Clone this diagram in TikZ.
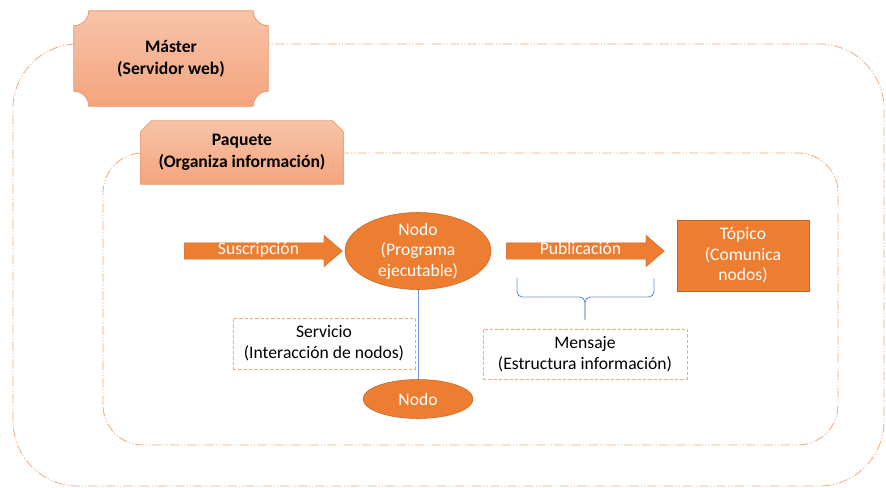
\documentclass[tikz,border=0pt]{standalone}
\usepackage{fontspec}
\setmainfont{Carlito}
\usepackage{xcolor}
\usepackage{tikz}
\usetikzlibrary{shapes.geometric, shapes.arrows, backgrounds}
\definecolor{naranja}{HTML}{ED7D31}
\definecolor{naranjaborde}{HTML}{C4651F}
\definecolor{salmonarriba}{HTML}{F7C4A8}
\definecolor{salmonabajo}{HTML}{F4A47E}
\definecolor{salmonborde}{HTML}{EE9C6C}
\definecolor{marco}{HTML}{F2A878}
\definecolor{azul}{HTML}{6F94D2}
\tikzstyle{master} = [minimum width=145.5pt, minimum height=71.25pt, inner sep=0pt, align=center, font=\fontsize{13.2}{16.5}\selectfont\bfseries]
\tikzstyle{paquete} = [minimum width=151.5pt, minimum height=47.25pt, inner sep=0pt, align=center, font=\fontsize{13.2}{16.5}\selectfont\bfseries]
\tikzstyle{nodo} = [ellipse, fill=naranja, draw=naranjaborde, text=white, align=center, inner xsep=0pt, inner ysep=-2pt, font=\fontsize{13.2}{15.4}\selectfont]
\tikzstyle{topico} = [rectangle, minimum width=99pt, minimum height=53.25pt, fill=naranja, draw=naranjaborde, text=white, align=center, font=\fontsize{13.2}{15.4}\selectfont]
\tikzstyle{flecha} = [single arrow, fill=naranja, draw=naranjaborde, line width=0.3pt, text=white, minimum height=118.5pt, inner ysep=0pt, text height=8.5pt, text depth=3.5pt, single arrow head extend=5.6pt, single arrow tip angle=81, single arrow head indent=0pt, font=\fontsize{13.2}{15.4}\selectfont]
\tikzstyle{caja} = [rectangle, draw=marco, line width=0.75pt, dash pattern=on 2.5pt off 1.5pt, align=center, font=\fontsize{13.2}{15.8}\selectfont]
\tikzstyle{marcofuera} = [draw=marco, line width=0.6pt, dash pattern=on 7pt off 1.5pt on 0.8pt off 1.5pt on 0.8pt off 1.5pt]
\tikzstyle{enlace} = [draw=azul, line width=0.7pt]

\begin{document}
\begin{tikzpicture}[x=0.75pt, y=0.75pt]
   \useasboundingbox (0,0) rectangle (886,487);
   \node (mas) [master] at (171,428.5) {Máster\\(Servidor web)};
   \node (paq) [paquete] at (242,334.5) {Paquete\\(Organiza información)};
   \node (nodo) [nodo, minimum width=109.5pt, minimum height=57.75pt] at (418,236) {Nodo\\(Programa\\ejecutable)};
   \node (sus) [flecha] at (258.5,236) {Suscripción};
   \node (pub) [flecha] at (580.5,236) {Publicación};
   \node (top) [topico] at (743,231.5) {Tópico\\(Comunica\\nodos)};
   \node (ser) [caja, minimum width=136.5pt, minimum height=38.25pt] at (324,143.5) {Servicio\\(Interacción de nodos)};
   \node (men) [caja, minimum width=153pt, minimum height=37.5pt] at (585,133) {Mensaje\\(Estructura información)};
   \node (nodo2) [nodo, minimum width=82.5pt, minimum height=29.25pt] at (418,88) {Nodo};
   \draw [enlace] (nodo) -- (nodo2);
   \coordinate (bi) at (517,209);
   \coordinate (bd) at (654,209);
   \coordinate (bp) at ([yshift=6.75pt]men.north);
   \draw [enlace, rounded corners=4pt] (bi) -- (bi |- 0,190) -- (bp |- 0,190) -- (bp);
   \draw [enlace, rounded corners=4pt] (bd) -- (bd |- 0,190) -- (bp |- 0,190) -- (bp);
   \begin{scope}[on background layer]
      \draw [marcofuera, rounded corners=48.75pt] (13,1) rectangle (884,443);
      \draw [marcofuera, rounded corners=30pt] (103,42) rectangle (838,334);
      \draw [top color=salmonarriba, bottom color=salmonabajo, draw=salmonborde, line width=0.6pt] ([xshift=11.25pt]mas.north west) -- ([xshift=-11.25pt]mas.north east) arc (180:270:11.25pt) -- ([yshift=11.25pt]mas.south east) arc (90:180:11.25pt) -- ([xshift=11.25pt]mas.south west) arc (0:90:11.25pt) -- ([yshift=-11.25pt]mas.north west) arc (270:360:11.25pt) -- cycle;
      \draw [top color=salmonarriba, bottom color=salmonabajo, draw=salmonborde, line width=0.6pt] ([xshift=8pt]paq.north west) -- ([xshift=-8pt]paq.north east) -- ([yshift=-8pt]paq.north east) -- (paq.south east) -- (paq.south west) -- ([yshift=-8pt]paq.north west) -- cycle;
   \end{scope}
\end{tikzpicture}
\end{document}
